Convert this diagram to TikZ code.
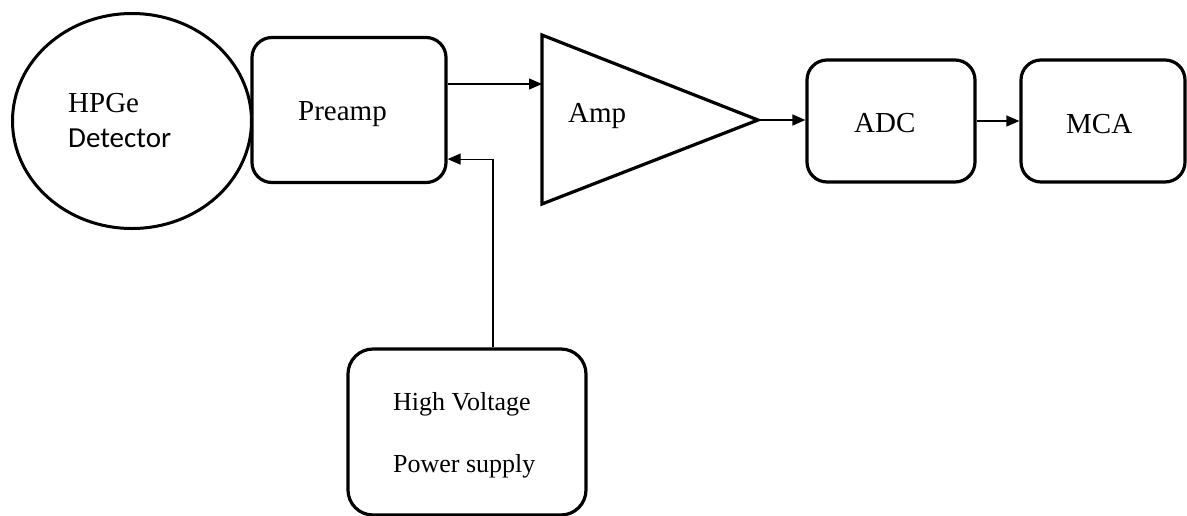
\documentclass[tikz,border=0pt]{standalone}
\usepackage{fontspec}
\setmainfont{Liberation Serif}
\newfontfamily\detfont{Carlito}
\usetikzlibrary{shapes.geometric,arrows.meta}

\begin{document}
\begin{tikzpicture}[x=1pt, y=-1pt, >={Triangle[length=13pt,width=11pt]},
    box/.style={draw, line width=3.2pt, rounded corners=20pt},
    sig/.style={->, line width=1.2pt},
    lbl/.style={anchor=base west, inner sep=0pt, font=\fontsize{29}{34}\selectfont},
    smalllbl/.style={anchor=base west, inner sep=0pt, font=\fontsize{26}{31}\selectfont}]
    \useasboundingbox (0,0) rectangle (1187,515);

    % Detector
    \node[ellipse, draw, line width=3pt, minimum width=239pt, minimum height=215pt] (det) at (132,121) {};
    \node[lbl] (hpge) at (68,112) {HPGe};
    \node[lbl, font=\detfont\fontsize{29}{34}\selectfont] (detname) at (68,147) {Detector};

    % Preamp
    \node[box, minimum width=194pt, minimum height=145pt] (preamp) at (349,110) {};
    \node[lbl] (preampname) at (298,120) {Preamp};

    % Amplifier triangle
    \coordinate (ampin) at (542,84);
    \coordinate (amptip) at (758,120);
    \draw[line width=3.2pt, line join=miter] (542,35) -- (amptip) -- (542,204) -- cycle;
    \node[lbl] (ampname) at (568,122) {Amp};

    % ADC and MCA
    \node[box, minimum width=168pt, minimum height=122pt] (adc) at (891,121) {};
    \node[lbl] (adcname) at (854,132) {ADC};
    \node[box, minimum width=164pt, minimum height=122pt] (mca) at (1103,121) {};
    \node[lbl] (mcaname) at (1066,133) {MCA};

    % High voltage supply
    \node[box, rounded corners=25pt, minimum width=238pt, minimum height=166pt] (hv) at (467,432) {};
    \node[smalllbl] (hvname) at (393,410) {High Voltage};
    \node[smalllbl] (psname) at (393,472) {Power supply};

    % Signal path
    \draw[sig] (preamp.east |- ampin) -- (ampin);
    \draw[sig] (amptip) -- (adc.west |- amptip);
    \draw[sig] (adc) -- (mca);
    \draw[sig] ([xshift=26pt]hv.north) |- ([yshift=25pt]preamp.south east);
\end{tikzpicture}
\end{document}
